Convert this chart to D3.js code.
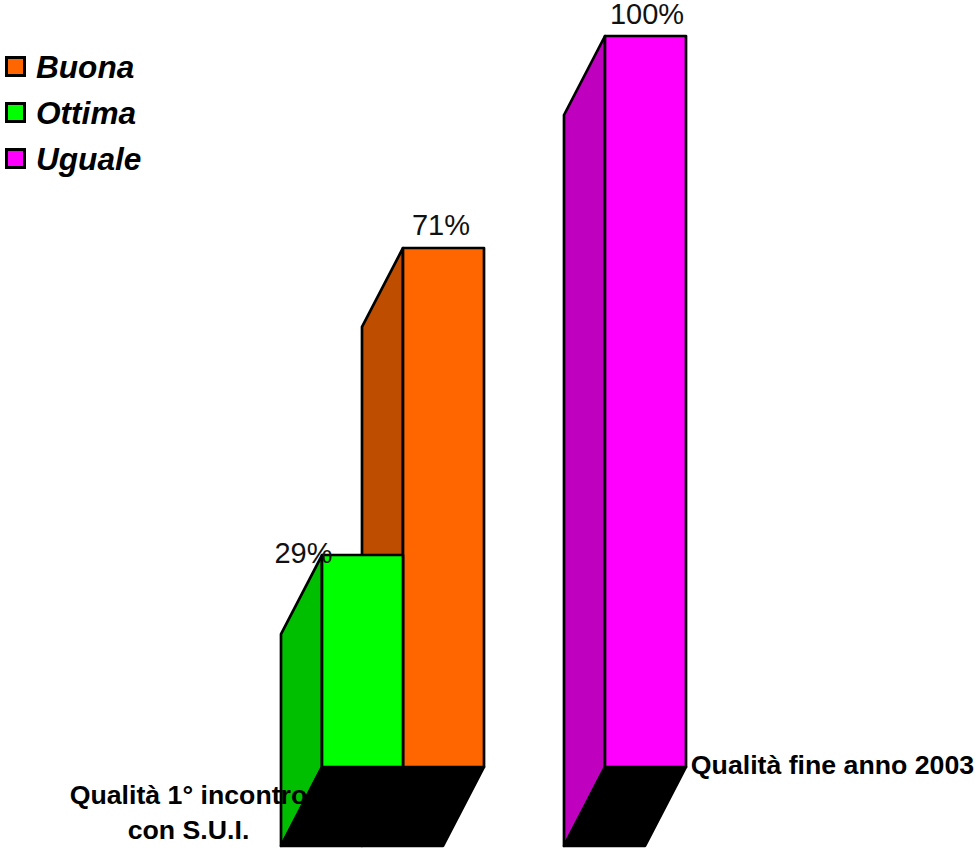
<!DOCTYPE html>
<html><head><meta charset="utf-8">
<script src="https://cdn.jsdelivr.net/npm/d3@7/dist/d3.min.js"></script>
<style>html,body{margin:0;padding:0;background:#fff}svg{display:block}text{font-family:"Liberation Sans",Arial,sans-serif;fill:#000}</style>
</head><body><svg id="c" width="976" height="848"></svg>
<script>
const categories = ["Qualità 1° incontro con S.U.I.", "Qualità fine anno 2003"];
const categoryLines = [["Qualità 1° incontro", "con S.U.I."], ["Qualità fine anno 2003"]];
const legendNames = ["Buona", "Ottima", "Uguale"];
const legendColors = ["#FF6600", "#00FF00", "#FF00FF"];
const sideColors = ["#BF4D00", "#00BF00", "#BF00BF"];
const barCategory = [0, 0, 1];
const barSlot = [0, 1, 0];
const barSeries = [1, 0, 2];
const barValues = [29, 71, 100];

const svg = d3.select("#c");
const y = d3.scaleLinear().domain([0, 100]).range([767, 36]);
const xCat = d3.scaleBand().domain(categories).range([322, 888]).padding(0);
const xSlot = d3.scaleBand().domain([0, 1]).range([0, 162]).padding(0);
const depthX = -41, depthY = 79;
const base = y(0), w = xSlot.bandwidth();
const line = d3.line();
const barX = i => xCat(categories[barCategory[i]]) + xSlot(barSlot[i]);
const styled = s => s.attr("stroke","#000").attr("stroke-width",2.7).attr("stroke-linejoin","round");

const order = [1, 0, 2];
order.forEach(i => {
  const x0 = barX(i), top = y(barValues[i]), s = barSeries[i];
  styled(svg.append("path")
    .attr("d", line([[x0,top],[x0+depthX,top+depthY],[x0+depthX,base+depthY],[x0,base]])+"Z")
    .attr("fill", sideColors[s]));
});
categories.forEach((c, ci) => {
  const idx = barCategory.map((b,i)=>b===ci?i:-1).filter(i=>i>=0);
  const l = d3.min(idx, barX), r = d3.max(idx, i=>barX(i)+w);
  styled(svg.append("path")
    .attr("d", line([[l,base],[r,base],[r+depthX,base+depthY],[l+depthX,base+depthY]])+"Z")
    .attr("fill","#000"));
});
order.forEach(i => {
  const x0 = barX(i), top = y(barValues[i]), s = barSeries[i];
  styled(svg.append("rect").attr("x",x0).attr("y",top).attr("width",w).attr("height",base-top)
    .attr("fill", legendColors[s]));
});
// value labels
const labelDx = [-18.5, 38, 42], labelDy = [8, -13, -12.5];
barValues.forEach((v,i) => {
  svg.append("text").attr("x", barX(i)+labelDx[i]).attr("y", y(v)+labelDy[i])
    .attr("text-anchor","middle").attr("font-size",29).style("fill","#111").text(v+"%");
});
// category labels
const catX = [188.5, 832.5], catY = [[804,839],[774]];
categoryLines.forEach((ls,ci) => ls.forEach((t,li) => {
  svg.append("text").attr("x",catX[ci]).attr("y",catY[ci][li])
    .attr("text-anchor","middle").attr("font-size",26.7).attr("font-weight","bold").text(t);
}));
// legend
const legendY = d3.scalePoint().domain(legendNames).range([66.5,158.5]);
legendNames.forEach((n,i) => {
  svg.append("rect").attr("x",6.5).attr("y",legendY(n)-9).attr("width",18).attr("height",18)
    .attr("fill",legendColors[i]).attr("stroke","#000").attr("stroke-width",3);
  svg.append("text").attr("x",36).attr("y",legendY(n)+11.5).attr("font-size",31.6)
    .attr("font-weight","bold").attr("font-style","italic").text(n);
});
</script></body></html>
